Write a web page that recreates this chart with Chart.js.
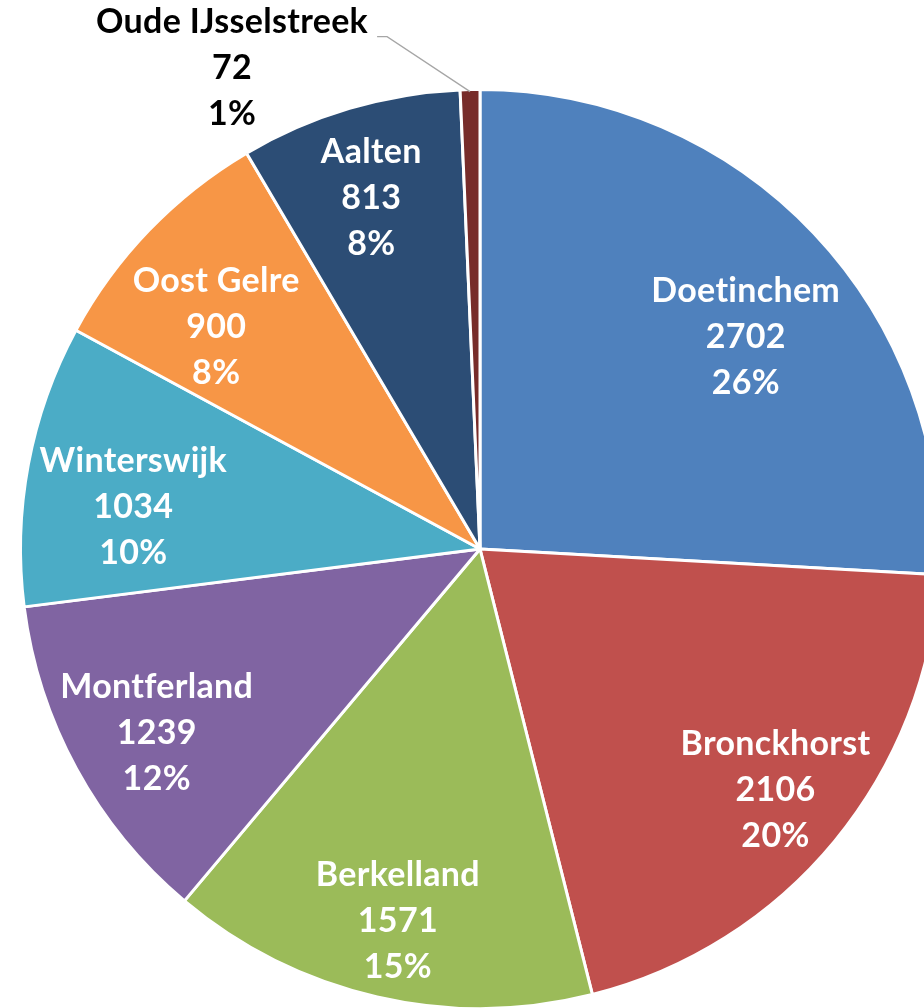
<!DOCTYPE html>
<html>
<head>
<meta charset="utf-8">
<script src="https://cdn.jsdelivr.net/npm/chart.js@4.4.0/dist/chart.umd.min.js"></script>
<style>
  html, body { margin:0; padding:0; background:#fff; overflow:hidden; }
  #wrap { position:relative; width:960px; height:1010px; }
</style>
</head>
<body>
<div id="wrap"><canvas id="pie" width="960" height="1010"></canvas></div>
<script>
'use strict';

// Gemeenten (clockwise from 12 o'clock)
const municipalities = ['Doetinchem','Bronckhorst','Berkelland','Montferland','Winterswijk','Oost Gelre','Aalten','Oude IJsselstreek'];
const counts         = [2702, 2106, 1571, 1239, 1034, 900, 813, 72];
const percentLabels  = ['26%','20%','15%','12%','10%','8%','8%','1%'];
const sliceColours   = ['#4F81BD','#C0504D','#9BBB59','#8064A2','#4BACC6','#F79646','#2C4D75','#772C2A'];

// label placement (Excel "best fit" look): fraction of radius + angle nudge in degrees
const labelRadius = [0.74, 0.83, 0.83, 0.81, 0.76, 0.75, 0.80, 1];
const labelNudge  = [4.8, -0.3, -0.5, -1.1, -3.7, -3.9, -0.7, 0];

const FONT = 'bold 34px Lato, "Open Sans", sans-serif';
const LINE_H = 46;

// draws the data labels (name / value / percent)
const sliceLabels = {
  id: 'sliceLabels',
  afterDatasetsDraw(chart) {
    const ctx = chart.ctx;
    const arcs = chart.getDatasetMeta(0).data;
    ctx.save();
    ctx.font = FONT;
    if ('letterSpacing' in ctx) ctx.letterSpacing = '0.3px'; // also stops the "ti" ligature
    ctx.textAlign = 'center';
    ctx.textBaseline = 'middle';
    arcs.forEach((arc, i) => {
      const { x, y, startAngle, endAngle, outerRadius } = arc.getProps(['x','y','startAngle','endAngle','outerRadius'], true);
      const mid = (startAngle + endAngle) / 2;
      const lines = [municipalities[i], String(counts[i]), percentLabels[i]];
      if (endAngle - startAngle > 0.2) {
        const a = mid + labelNudge[i] * Math.PI / 180;
        const lx = x + Math.cos(a) * outerRadius * labelRadius[i];
        const ly = y + Math.sin(a) * outerRadius * labelRadius[i];
        ctx.fillStyle = '#fff';
        lines.forEach((t, k) => ctx.fillText(t, lx, ly + (k - 1) * LINE_H));
      } else {
        // tiny slice: label outside with leader line
        const ox = x + Math.cos(mid) * (outerRadius - 2);
        const oy = y + Math.sin(mid) * (outerRadius - 2);
        const ex = ox - 83, ey = oy - 55;
        ctx.strokeStyle = '#a6a6a6';
        ctx.lineWidth = 1.3;
        ctx.beginPath();
        ctx.moveTo(ox, oy);
        ctx.lineTo(ex, ey);
        ctx.lineTo(ex - 10, ey);
        ctx.stroke();
        const w = ctx.measureText(lines[0]).width;
        const cx = ex - 19 - w / 2;
        ctx.fillStyle = '#000';
        lines.forEach((t, k) => ctx.fillText(t, cx, oy - 70 + k * LINE_H));
      }
    });
    ctx.restore();
  }
};

new Chart(document.getElementById('pie'), {
  type: 'pie',
  data: {
    labels: municipalities,
    datasets: [{
      data: counts,
      backgroundColor: sliceColours,
      borderColor: '#fff',
      borderWidth: 3
    }]
  },
  options: {
    responsive: false,
    animation: false,
    layout: { padding: { top: 88 } },
    plugins: { legend: { display:false }, tooltip: { enabled:false } }
  },
  plugins: [sliceLabels]
});
</script>
</body>
</html>
